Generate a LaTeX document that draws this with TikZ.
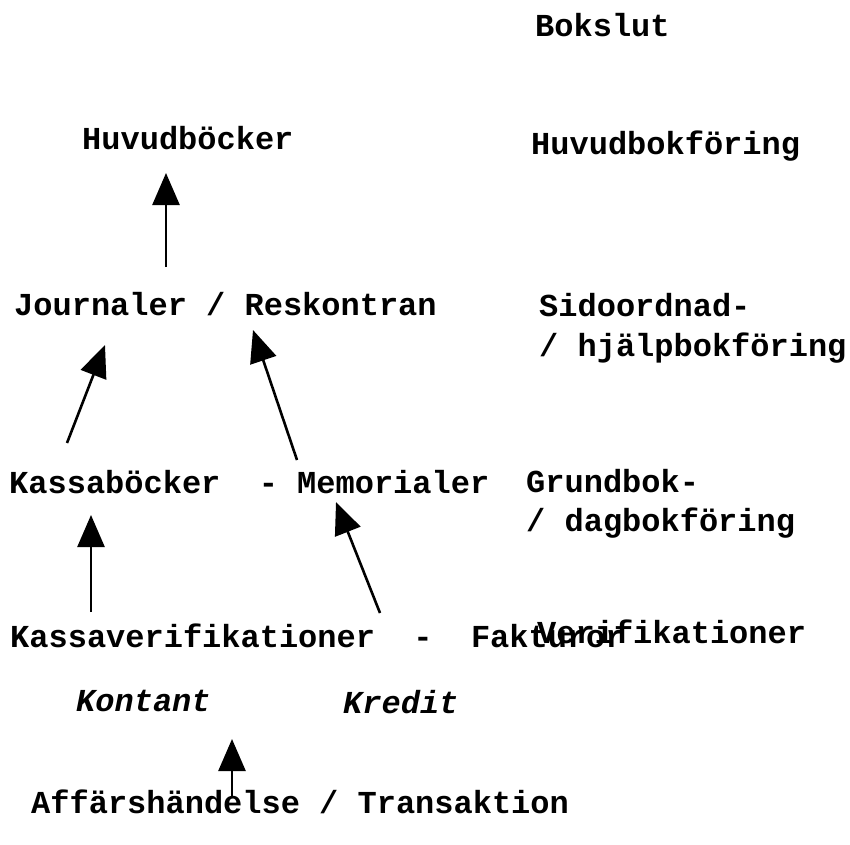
\documentclass[tikz,border=0pt]{standalone}
\usepackage{fontspec}
\newfontfamily\cfont{Liberation Mono}
\usetikzlibrary{arrows.meta}
\begin{document}
\begin{tikzpicture}[x=1pt,y=-1pt,
  lbl/.style={anchor=base west,inner sep=0pt,font=\cfont\fontsize{32}{36}\selectfont\bfseries},
  ilbl/.style={lbl,font=\cfont\fontsize{32}{36}\selectfont\bfseries\itshape},
  arr/.style={line width=2.6pt,-{Triangle[length=32pt,width=27pt]}}]
\useasboundingbox (0,0) rectangle (850,844);
% left column
\node[lbl] (huvb) at (82,149) {Huvudböcker};
\node[lbl] (jour) at (14,315) {Journaler / Reskontran};
\node[lbl] (kass) at (9,493) {Kassaböcker~~-~Memorialer};
\node[lbl] (kver) at (10,647) {Kassaverifikationer~~-~~Fakturor};
\node[ilbl] (kont) at (76,711) {Kontant};
\node[ilbl] (kred) at (343,713) {Kredit};
\node[lbl] (aff) at (31,813) {Affärshändelse / Transaktion};
% right column
\node[lbl] (boks) at (535,36) {Bokslut};
\node[lbl] (huvf) at (531,154) {Huvudbokföring};
\node[lbl] (sido) at (539,316) {Sidoordnad-};
\node[lbl] (hjal) at (539,356) {/ hjälpbokföring};
\node[lbl] (grun) at (526,492) {Grundbok-};
\node[lbl] (dagb) at (526,531) {/ dagbokföring};
\node[lbl] (veri) at (537,643) {Verifikationer};
% arrows
\coordinate (a1s) at (166,267); \coordinate (a1e) at (166,173);
\coordinate (a2s) at (67,443);  \coordinate (a2e) at (105,345);
\coordinate (a3s) at (297,460); \coordinate (a3e) at (253,330);
\coordinate (a4s) at (91,612);  \coordinate (a4e) at (91,515);
\coordinate (a5s) at (380,613); \coordinate (a5e) at (336,502);
\coordinate (a6s) at (232,797); \coordinate (a6e) at (232,739);
\draw[arr] (a1s) -- (a1e);
\draw[arr] (a2s) -- (a2e);
\draw[arr] (a3s) -- (a3e);
\draw[arr] (a4s) -- (a4e);
\draw[arr] (a5s) -- (a5e);
\draw[arr] (a6s) -- (a6e);
\end{tikzpicture}
\end{document}
